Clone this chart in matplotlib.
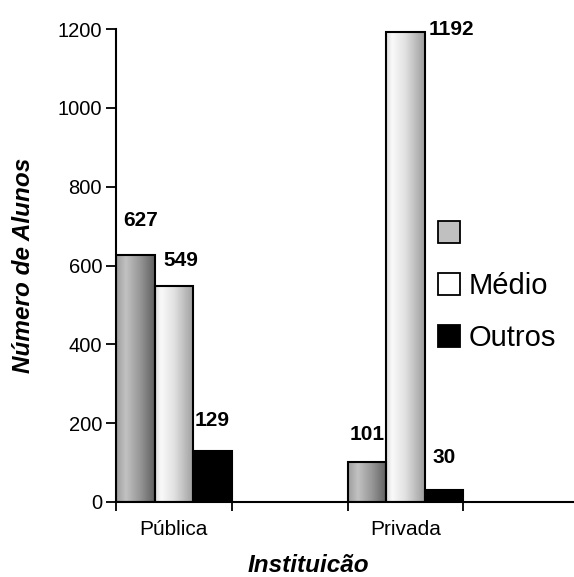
#!/usr/bin/env python3
"""Alunos por tipo de instituicao: barras agrupadas com preenchimento em degrade."""

import matplotlib
matplotlib.use('Agg')
import matplotlib.pyplot as plt
import numpy as np
from matplotlib.colors import LinearSegmentedColormap
from matplotlib.patches import Patch

plt.rcParams['font.family'] = ['Liberation Sans', 'DejaVu Sans']

groups = ['Pública', 'Privada']
series_names = ['', 'Médio', 'Outros']
serie_1 = [627, 101]
medio = [549, 1192]
outros = [129, 30]

# label offsets from the top-centre of each bar, in pixels (dx, dy)
label_offsets = [
    [(5.5, 34), (0, 28)],
    [(7, 25), (46, 2.5)],
    [(0, 31), (0, 33)],
]

GRAY_CMAP = LinearSegmentedColormap.from_list('gray_bar', [
    (0.0, (0.62,) * 3), (0.25, (0.76,) * 3), (0.6, (0.60,) * 3),
    (1.0, (0.38,) * 3),
])
WHITE_CMAP = LinearSegmentedColormap.from_list('white_bar', [
    (0.0, (0.86,) * 3), (0.15, (0.98,) * 3), (0.5, (0.88,) * 3),
    (1.0, (0.62,) * 3),
])
fills = [GRAY_CMAP, WHITE_CMAP, 'black']
legend_colors = ['#c0c0c0', 'white', 'black']


def gradient_bar(ax, patch, cmap):
    x0, y0 = patch.get_x(), patch.get_y()
    w, h = patch.get_width(), patch.get_height()
    grad = np.linspace(0, 1, 64).reshape(1, -1)
    ax.imshow(grad, cmap=cmap, extent=(x0, x0 + w, y0, y0 + h),
              aspect='auto', interpolation='bilinear', zorder=2)


fig = plt.figure(figsize=(5.74, 5.77), dpi=100)
ax = fig.add_axes([0.2021, 0.130, 0.796, 0.8197])

group_starts = np.array([0, 6])
all_values = [serie_1, medio, outros]
for i, (values, fill) in enumerate(zip(all_values, fills)):
    face = fill if isinstance(fill, str) else 'none'
    bars = ax.bar(group_starts + i, values, width=1, align='edge',
                  facecolor=face, edgecolor='black', linewidth=1.5, zorder=3)
    for j, patch in enumerate(bars):
        if not isinstance(fill, str):
            gradient_bar(ax, patch, fill)
        dx, dy = label_offsets[i][j]
        ax.annotate(str(values[j]),
                    (patch.get_x() + patch.get_width() / 2, values[j]),
                    xytext=(dx, dy), textcoords='offset pixels',
                    ha='center', va='center', fontsize=15,
                    fontweight='bold', zorder=4)

ax.set_xlim(0, 11.84)
ax.set_ylim(0, 1200)
ax.set_yticks(range(0, 1201, 200))
ax.set_xticks([0, 3, 6, 9])
ax.set_xticklabels([])
ax.set_xticks(group_starts + 1.5, minor=True)
ax.set_xticklabels(groups, minor=True, fontsize=15)

for side in ['top', 'right']:
    ax.spines[side].set_visible(False)
for side in ['left', 'bottom']:
    ax.spines[side].set_linewidth(1.5)
ax.tick_params(axis='x', which='major', direction='out', length=6.5,
               width=1.3)
ax.tick_params(axis='x', which='minor', length=0, pad=13)
ax.tick_params(axis='y', direction='out', length=7, width=1.3, pad=3,
               labelsize=14.5)

ax.set_ylabel('Número de Alunos', fontsize=17.5, fontweight='bold',
              fontstyle='italic', labelpad=16)
ax.set_xlabel('Instituicão', fontsize=17.5, fontweight='bold',
              fontstyle='italic')
ax.xaxis.set_label_coords(0.42, -0.11)

handles = [Patch(facecolor=c, edgecolor='black', linewidth=1.3)
           for c in legend_colors]
fig.legend(handles, series_names, loc='upper left',
           bbox_to_anchor=(438 / 574, 1 - 220 / 577), frameon=False,
           fontsize=21, borderpad=0, borderaxespad=0, handlelength=0.76,
           handleheight=0.76, handletextpad=0.3, labelspacing=0.83)

fig.savefig('out.png', dpi=100)
